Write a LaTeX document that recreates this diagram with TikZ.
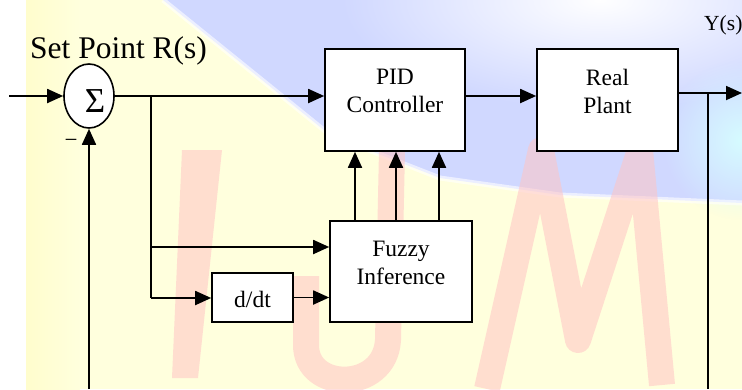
\documentclass[tikz,border=0pt]{standalone}
\usepackage{fontspec}
\setmainfont{Liberation Serif}
\usetikzlibrary{arrows.meta,shapes.geometric,fadings,calc}
\definecolor{wmyellow}{RGB}{255,255,221}
\definecolor{wmyellowdeep}{RGB}{255,253,205}
\definecolor{wmblue}{RGB}{208,216,255}
\definecolor{wmcyan}{RGB}{214,252,255}
\definecolor{wmred}{RGB}{255,196,196}
\tikzfading[name=softspot, inner color=transparent!0, outer color=transparent!100]

\begin{document}
\begin{tikzpicture}[x=1pt,y=-1pt,
  blk/.style={draw, line width=1.6pt, fill=white, rectangle, inner sep=0pt},
  lbl/.style={font=\fontsize{23.5}{28}\selectfont, align=center, inner sep=0pt},
  link/.style={line width=1.8pt},
  flow/.style={link, -{Triangle[length=16pt,width=14pt]}},
  letter/.style={wmred, line width=26pt, opacity=0.55, line join=round},
]
\useasboundingbox (0,0) rectangle (742,389);

% --- watermark backdrop ---
\fill[wmyellow] (26,0) rectangle (742,389);
\shade[left color=wmyellowdeep, right color=wmyellow] (26,0) rectangle (80,389);
\fill[wmblue] (163,0) -- (330,135) -- (440,178) -- (560,195) -- (742,203) -- (742,0) -- cycle;
\fill[white, path fading=softspot] (600,0) ellipse [x radius=260pt, y radius=110pt];
\fill[wmcyan, path fading=softspot] (742,140) ellipse [x radius=80pt, y radius=80pt];
\draw[white, line width=5pt, opacity=0.6] (163,0) -- (330,135) -- (440,178) -- (560,195) -- (742,203);
\fill[wmred, opacity=0.55] (182,150) -- (222,150) -- (198,378) -- (172,378) -- cycle;
\draw[letter] (306,276) -- (306,345) .. controls (306,392) and (385,392) .. (388,340) -- (392,150);
\draw[letter] (487,389) -- (541,150) -- (578,340) -- (640,150) -- (662,385);

% --- blocks ---
\node[draw, ellipse, line width=1.6pt, fill=white, minimum width=50pt, minimum height=64pt, inner sep=0pt] (sum) at (89,96) {};
\node[font=\fontsize{35}{38}\selectfont, inner sep=0pt, anchor=base] (sigma) at (95,112) {Σ};
\node[blk, minimum width=140pt, minimum height=102pt] (pid) at (395,100) {};
\node[lbl] (pidtxt) at (395,91) {PID\\Controller};
\node[blk, minimum width=141pt, minimum height=102pt] (plant) at (607.5,100) {};
\node[lbl] (planttxt) at (607.5,91) {Real\\Plant};
\node[blk, minimum width=142pt, minimum height=101pt] (fuzzy) at (401,271.5) {};
\node[lbl] (fuzzytxt) at (401,263) {Fuzzy\\Inference};
\node[blk, minimum width=81pt, minimum height=49pt] (ddt) at (252.5,297.5) {};
\node[lbl, anchor=base] (ddttxt) at (252.5,307) {d/dt};

% --- labels ---
\node[anchor=base west, font=\fontsize{31.5}{36}\selectfont, inner sep=0pt] (setpoint) at (30,58) {Set Point R(s)};
\node[anchor=base west, font=\fontsize{21.5}{24}\selectfont, inner sep=0pt] (ylabel) at (704,30) {Y(s)};
\node[font=\fontsize{23}{26}\selectfont, inner sep=0pt, anchor=base] (minus) at (71,147) {−};

% --- connectors ---
\coordinate (in) at (9,96);
\coordinate (split) at (151,96);
\coordinate (tapA) at (151,247);
\coordinate (tapB) at (151,298);
\coordinate (rowA) at (0,96);
\coordinate (rowB) at (0,93);
\coordinate (out) at (742,93);
\coordinate (fbR) at (708,93);
\coordinate (fbRend) at (708,389);
\coordinate (fbL) at (89,389);
\coordinate (c1) at (355,0);
\coordinate (c2) at (396,0);
\coordinate (c3) at (439,0);

\draw[flow] (in) -- (sum.west);
\draw[flow] (sum.east) -- (sum.east -| pid.west);
\draw[link] (split) -- (tapB);
\draw[flow] (tapA) -- (tapA -| fuzzy.west);
\draw[flow] (tapB) -- (tapB -| ddt.west);
\draw[flow] (ddt.east) -- (ddt.east -| fuzzy.west);
\foreach \c in {c1,c2,c3}
  \draw[flow] (fuzzy.north -| \c) -- (pid.south -| \c);
\draw[flow] (pid.east |- rowA) -- (plant.west |- rowA);
\draw[flow] (plant.east |- rowB) -- (out);
\draw[link] (fbR) -- (fbRend);
\draw[flow] (fbL) -- (sum.south);
\end{tikzpicture}
\end{document}
